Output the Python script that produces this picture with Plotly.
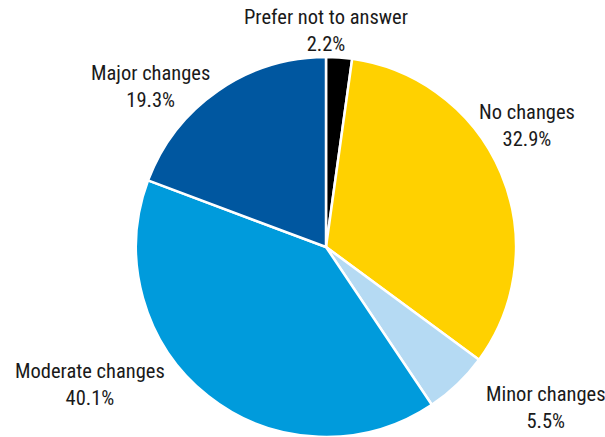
import plotly.graph_objects as go

# Share of respondents by extent of change
categories = ["Prefer not to answer", "No changes", "Minor changes",
              "Moderate changes", "Major changes"]
shares = [2.2, 32.9, 5.5, 40.1, 19.3]
colors = ["#000000", "#FFD100", "#B5DAF3", "#009BDC", "#0057A0"]

# Label centres in pixels for each category
label_x = [326, 527, 546, 90, 150]
label_y = [30, 125, 407, 384, 86]

W, H = 605, 437
FONT = "Liberation Sans Narrow, Roboto Condensed, Arial Narrow, sans-serif"

cx, cy, r = 326, 247, 190

fig = go.Figure(go.Pie(
    labels=categories,
    values=shares,
    sort=False,
    direction="clockwise",
    rotation=0,
    marker=dict(colors=colors, line=dict(color="white", width=2.5)),
    textinfo="none",
    hoverinfo="label+value",
    showlegend=False,
    domain=dict(x=[(cx - r) / W, (cx + r) / W],
                y=[(H - cy - r) / H, (H - cy + r) / H]),
))

for name, v, x, y in zip(categories, shares, label_x, label_y):
    fig.add_annotation(
        x=x / W, y=1 - y / H, xref="paper", yref="paper",
        text=f"{name}<br>{v}%", showarrow=False,
        font=dict(family=FONT, size=20.5, color="#1a1a1a"),
        align="center", xanchor="center", yanchor="middle",
    )

fig.update_layout(
    width=W, height=H,
    margin=dict(l=0, r=0, t=0, b=0),
    paper_bgcolor="white",
    plot_bgcolor="white",
)

fig.write_html("out.html")
